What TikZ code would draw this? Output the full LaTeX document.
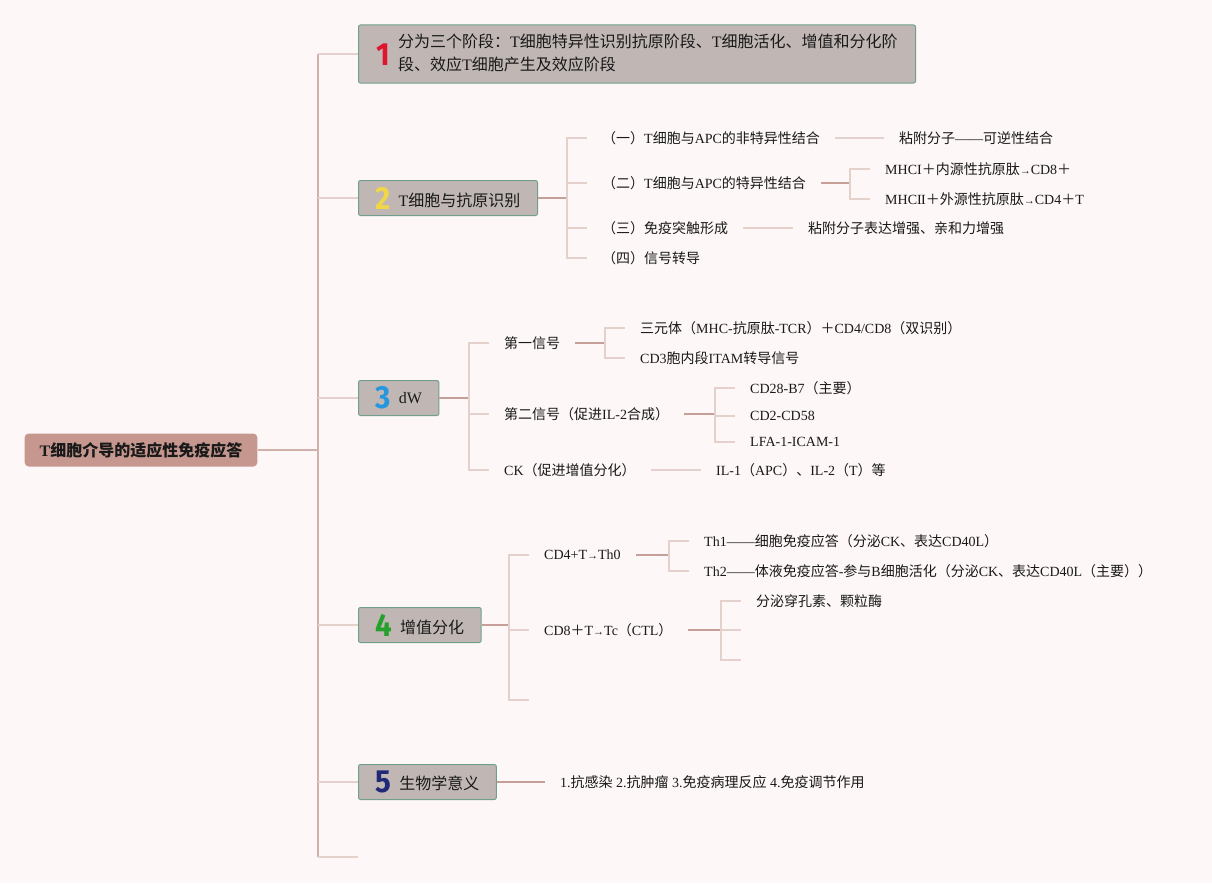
\documentclass[tikz,border=0pt]{standalone}
\usepackage{fontspec}
\usepackage{graphicx}
\usepackage{xcolor}
\usepackage{tikz}
\setmainfont{Liberation Serif}
\newfontfamily\zhfont{Noto Sans CJK SC}
\newfontfamily\digfont{Fira Sans}

% Chinese characters go to the CJK font, the rest stays serif
\XeTeXinterchartokenstate=1
\chardef\zhcls=7
\newcount\zhc
\zhc="2E80 \loop\XeTeXcharclass\zhc=\zhcls \advance\zhc by 1 \ifnum\zhc<"A000 \repeat
\zhc="FF00 \loop\XeTeXcharclass\zhc=\zhcls \advance\zhc by 1 \ifnum\zhc<"FFF0 \repeat
\XeTeXinterchartoks 0 \zhcls={\zhfont}
\XeTeXinterchartoks 4095 \zhcls={\zhfont}
\XeTeXinterchartoks \zhcls 0={\rmfamily}
\XeTeXinterchartoks \zhcls 4095={\rmfamily}

\definecolor{bgcol}{RGB}{253,248,247}
\definecolor{rootfill}{RGB}{197,151,142}
\definecolor{topicfill}{RGB}{192,183,181}
\definecolor{topicline}{RGB}{112,160,140}
\definecolor{trunkcol}{RGB}{207,176,170}
\definecolor{stemcol}{RGB}{198,160,152}
\definecolor{twigcol}{RGB}{228,209,204}
\definecolor{inkcol}{RGB}{25,25,25}
\definecolor{numred}{RGB}{222,22,45}
\definecolor{numyellow}{RGB}{240,214,72}
\definecolor{numblue}{RGB}{38,150,222}
\definecolor{numgreen}{RGB}{38,160,45}
\definecolor{numnavy}{RGB}{32,40,120}

\newcommand\tagnum[3][-3pt]{\raisebox{#1}{\scalebox{0.92}[1]{\color{#3}\digfont\bfseries\fontsize{32}{32}\selectfont #2}}}
\newcommand\tarrow{{\fontsize{11}{11}\selectfont →}\rmfamily}
\newcommand\romtwo{I\kern-0.6pt I}

\begin{document}
\begin{tikzpicture}[x=1pt, y=-1pt, every node/.style={text=inkcol},
    rootbox/.style={fill=rootfill, rounded corners=4pt, inner xsep=15pt, minimum height=33pt, font=\fontsize{16}{20}\selectfont\bfseries},
    topic/.style={draw=topicline, line width=1pt, fill=topicfill, rounded corners=2pt, anchor=west, inner xsep=17pt, inner ysep=0pt, minimum height=35pt, font=\fontsize{16}{20}\selectfont},
    item/.style={anchor=west, inner xsep=15pt, inner ysep=2pt, font=\fontsize{14}{17}\selectfont},
    trunk/.style={draw=trunkcol, line width=2pt},
    stem/.style={draw=stemcol, line width=2pt},
    twig/.style={draw=twigcol, line width=1.5pt}]
    \fill[bgcol] (0,0) rectangle (1212,883);
    \useasboundingbox (0,0) rectangle (1212,883);

    \node[rootbox] (root) at (141,450) {T细胞介导的适应性免疫应答};
    \coordinate (j0) at (318,450);

    % main topics
    \node[topic, minimum height=58pt, minimum width=557pt] (t1) at (358,54) {\tagnum[-7pt]{1}{numred}\hspace{8pt}\def\arraystretch{1.15}\begin{tabular}{@{}l@{}}分为三个阶段：T细胞特异性识别抗原阶段、T细胞活化、增值和分化阶\\段、效应T细胞产生及效应阶段\end{tabular}};
    \node[topic] (t2) at (358,198) {\tagnum{2}{numyellow}\hspace{8pt}T细胞与抗原识别};
    \node[topic] (t3) at (358,398) {\tagnum{3}{numblue}\hspace{8pt}\raisebox{2pt}{dW}};
    \node[topic] (t4) at (358,625) {\tagnum{4}{numgreen}\hspace{8pt}增值分化};
    \node[topic] (t5) at (358,782) {\tagnum{5}{numnavy}\hspace{8pt}生物学意义};
    \coordinate (e6) at (358,857);

    \draw[trunk] (root.east) -- (j0);
    \draw[trunk] (j0 |- t1.west) -- (j0 |- e6);
    \draw[twig] (j0 |- t1.west) -- (t1.west); \draw[twig] (j0 |- t2.west) -- (t2.west); \draw[twig] (j0 |- t3.west) -- (t3.west);
    \draw[twig] (j0 |- t4.west) -- (t4.west); \draw[twig] (j0 |- t5.west) -- (t5.west); \draw[twig] (j0 |- e6) -- (e6);

    % T cell and antigen recognition
    \coordinate (j2) at (567,198);
    \node[item] (a1) at (587,138) {（一）T细胞与APC的非特异性结合};
    \node[item] (a2) at (587,183) {（二）T细胞与APC的特异性结合};
    \node[item] (a3) at (587,228) {（三）免疫突触形成};
    \node[item] (a4) at (587,258) {（四）信号转导};
    \node[item] (c1) at (884,138) {粘附分子——可逆性结合};
    \coordinate (j22) at (850,183);
    \node[item] (b1) at (870,169) {MHCI＋内源性抗原肽\tarrow CD8＋};
    \node[item] (b2) at (870,199) {MHC\romtwo＋外源性抗原肽\tarrow CD4＋T};
    \node[item] (c3) at (793,228) {粘附分子表达增强、亲和力增强};
    \draw[stem] (t2.east) -- (j2);
    \draw[twig] (j2) |- (a1.west); \draw[twig] (j2) |- (a2.west); \draw[twig] (j2) |- (a3.west); \draw[twig] (j2) |- (a4.west);
    \draw[twig] (a1.east) -- (c1.west);
    \draw[stem] (a2.east) -- (j22); \draw[twig] (j22) |- (b1.west); \draw[twig] (j22) |- (b2.west);
    \draw[twig] (a3.east) -- (c3.west);

    % dW signals
    \coordinate (j3) at (469,398);
    \node[item] (s1) at (489,343) {第一信号};
    \node[item] (s2) at (489,414) {第二信号（促进IL-2合成）};
    \node[item] (s3) at (489,470) {CK（促进增值分化）};
    \coordinate (j31) at (605,343);
    \node[item] (s11) at (625,328) {三元体（MHC-抗原肽-TCR）＋CD4/CD8（双识别）};
    \node[item] (s12) at (625,358) {CD3胞内段ITAM转导信号};
    \coordinate (j32) at (715,414);
    \node[item] (s21) at (735,388) {CD28-B7（主要）};
    \node[item] (s22) at (735,416) {CD2-CD58};
    \node[item] (s23) at (735,442) {LFA-1-ICAM-1};
    \node[item] (s31) at (701,470) {IL-1（APC）、IL-2（T）等};
    \draw[stem] (t3.east) -- (j3);
    \draw[twig] (j3) |- (s1.west); \draw[twig] (j3) |- (s2.west); \draw[twig] (j3) |- (s3.west);
    \draw[stem] (s1.east) -- (j31); \draw[twig] (j31) |- (s11.west); \draw[twig] (j31) |- (s12.west);
    \draw[stem] (s2.east) -- (j32); \draw[twig] (j32) |- (s21.west); \draw[twig] (j32) |- (s22.west); \draw[twig] (j32) |- (s23.west);
    \draw[twig] (s3.east) -- (s31.west);

    % proliferation and differentiation
    \coordinate (j4) at (509,625);
    \node[item] (d1) at (529,555) {CD4+T\tarrow Th0};
    \node[item] (d2) at (529,630) {CD8＋T\tarrow Tc（CTL）};
    \coordinate (e43) at (529,700);
    \coordinate (j41) at (669,555);
    \node[item] (d11) at (689,541) {Th1——细胞免疫应答（分泌CK、表达CD40L）};
    \node[item] (d12) at (689,571) {Th2——体液免疫应答-参与B细胞活化（分泌CK、表达CD40L（主要））};
    \coordinate (j42) at (721,630);
    \node[item] (d21) at (741,601) {分泌穿孔素、颗粒酶};
    \coordinate (e22) at (741,630);
    \coordinate (e23) at (741,660);
    \draw[stem] (t4.east) -- (j4);
    \draw[twig] (j4) |- (d1.west); \draw[twig] (j4) |- (d2.west); \draw[twig] (j4) |- (e43);
    \draw[stem] (d1.east) -- (j41); \draw[twig] (j41) |- (d11.west); \draw[twig] (j41) |- (d12.west);
    \draw[stem] (d2.east) -- (j42); \draw[twig] (j42) |- (d21.west); \draw[twig] (j42) |- (e22); \draw[twig] (j42) |- (e23);

    % biological meaning
    \node[item] (f1) at (545,782) {1.抗感染 2.抗肿瘤 3.免疫病理反应 4.免疫调节作用};
    \draw[stem] (t5.east) -- (f1.west);
\end{tikzpicture}
\end{document}
